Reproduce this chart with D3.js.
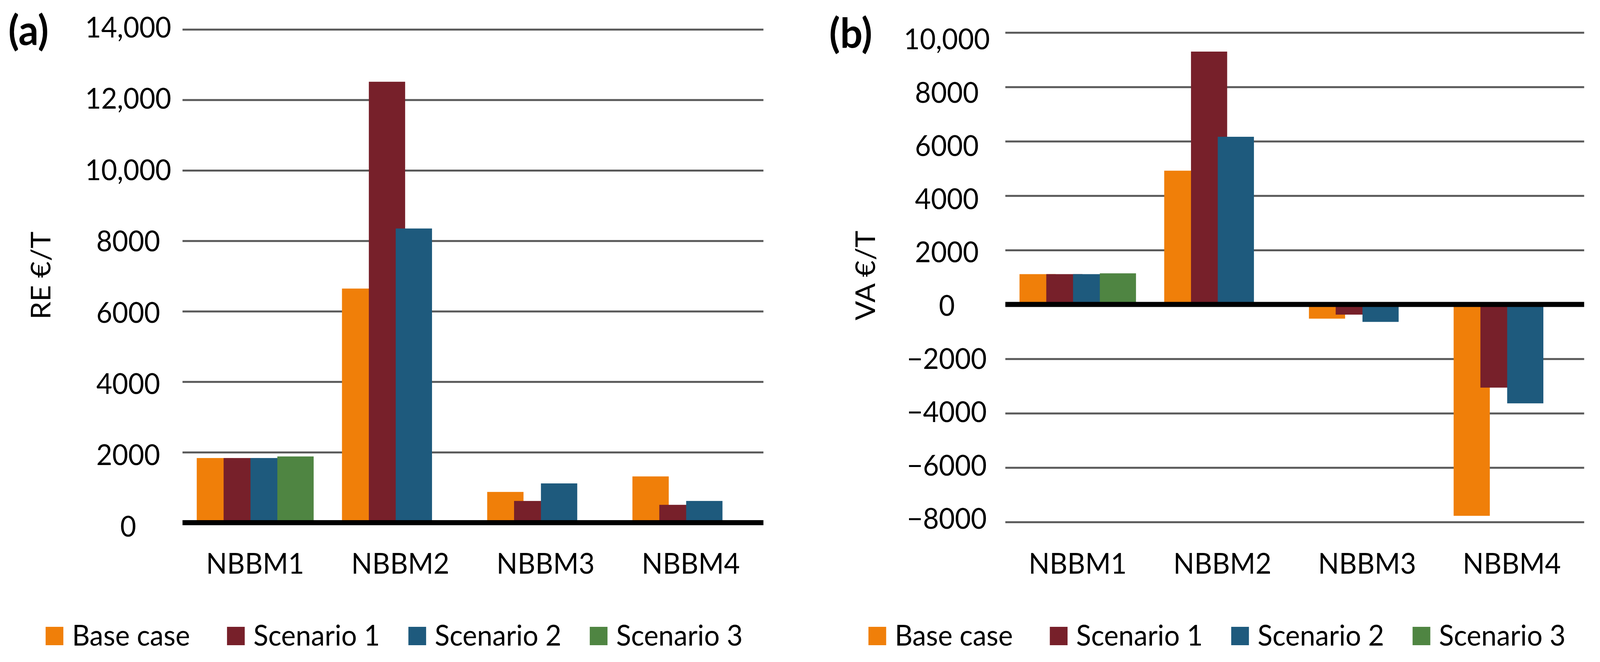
<!DOCTYPE html>
<html>
<head>
<meta charset="utf-8">
<script src="https://cdn.jsdelivr.net/npm/d3@7"></script>
<style>
html, body { margin: 0; padding: 0; background: #fff; overflow: hidden; }
#canvas { display: block; width: 100vw; height: 100vh; }
text { font-family: Lato, 'Open Sans', sans-serif; fill: #000; }
</style>
</head>
<body>
<svg id="canvas" viewBox="0 0 4243 1694" preserveAspectRatio="none"></svg>
<script>
let categories = ['NBBM1', 'NBBM2', 'NBBM3', 'NBBM4']
let seriesNames = ['Base case', 'Scenario 1', 'Scenario 2', 'Scenario 3']
let seriesColors = ['#F07F09', '#77202A', '#1E5A7D', '#4F8542']

// (a) RE €/T
let reBase = [1835, 6645, 873, 1313]
let reScen1 = [1835, 12515, 617, 507]
let reScen2 = [1835, 8350, 1115, 617]
let reScen3 = [1880, null, null, null]
let reTicks = [0, 2000, 4000, 6000, 8000, 10000, 12000, 14000]
let reTickLabels = ['0', '2000', '4000', '6000', '8000', '10,000', '12,000', '14,000']

// (b) VA €/T
let vaBase = [1115, 4920, -522, -7773]
let vaScen1 = [1115, 9300, -374, -3058]
let vaScen2 = [1115, 6167, -641, -3637]
let vaScen3 = [1145, null, null, null]
let vaTicks = [-8000, -6000, -4000, -2000, 0, 2000, 4000, 6000, 8000, 10000]
let vaTickLabels = ['\u22128000', '\u22126000', '\u22124000', '\u22122000', '0', '2000', '4000', '6000', '8000', '10,000']

let canvas = d3.select('#canvas')
canvas.append('rect').attr('width', 4243).attr('height', 1694).attr('fill', '#fff')

let drawPanel = (p) => {
    let g = canvas.append('g')

    let xScale = d3.scaleBand()
                    .domain(categories)
                    .range([p.left, p.right])
    let band = xScale.bandwidth()

    let yScale = d3.scaleLinear()
                    .domain(p.domain)
                    .range([p.bottom, p.top])

    let labelScale = d3.scaleLinear()
                    .domain(p.domain)
                    .range(p.labelRange)

    // gridlines
    let grid = g.append('g')
            .attr('transform', 'translate(' + p.left + ',0)')
            .call(d3.axisLeft(yScale)
                    .tickValues(p.ticks.filter((v) => v !== 0))
                    .tickSize(-(p.right - p.left))
                    .tickFormat(''))
    grid.select('.domain').remove()
    grid.selectAll('line')
            .attr('stroke', '#595959')
            .attr('stroke-width', 5)

    // bars
    let series = [p.base, p.s1, p.s2, p.s3]
    series.forEach((values, si) => {
        let items = categories.map((c, ci) => ({ c: c, v: values[ci] }))
                            .filter((d) => d.v !== null)
        g.append('g')
            .selectAll('rect')
            .data(items)
            .enter()
            .append('rect')
            .attr('x', (d) => xScale(d.c) + band * (0.098 + 0.185 * si))
            .attr('width', band * 0.25)
            .attr('y', (d) => Math.min(yScale(d.v), yScale(0)))
            .attr('height', (d) => Math.abs(yScale(d.v) - yScale(0)))
            .attr('fill', seriesColors[si])
    })

    // zero axis line
    g.append('line')
            .attr('x1', p.left)
            .attr('x2', p.right)
            .attr('y1', yScale(0))
            .attr('y2', yScale(0))
            .attr('stroke', '#000')
            .attr('stroke-width', 13)

    // value labels
    let labels = g.append('g')
            .attr('transform', 'translate(' + p.labelX + ',0)')
            .call(d3.axisLeft(labelScale)
                    .tickValues(p.ticks)
                    .tickSize(0)
                    .tickPadding(0)
                    .tickFormat((d, i) => p.tickLabels[i]))
    labels.select('.domain').remove()
    labels.selectAll('text')
            .attr('x', 0)
            .attr('dy', '0.36em')
            .attr('text-anchor', 'middle')
            .attr('font-family', 'Lato, sans-serif')
            .attr('font-size', 73)
            .attr('fill', '#000')

    // category labels
    g.append('g')
        .selectAll('text')
        .data(categories)
        .enter()
        .append('text')
        .attr('x', (d) => xScale(d) + band / 2)
        .attr('y', 1468)
        .attr('text-anchor', 'middle')
        .attr('font-size', 73)
        .text((d) => d)

    // axis title
    g.append('text')
        .attr('transform', 'translate(' + p.titleX + ',705) rotate(-90)')
        .attr('text-anchor', 'middle')
        .attr('font-size', 73)
        .text(p.title)

    // panel letter
    g.append('text')
        .attr('x', p.letterX)
        .attr('y', p.letterY)
        .attr('font-size', 105)
        .attr('font-weight', 700)
        .text(p.letter)

    // legend
    let legend = g.append('g')
            .selectAll('g')
            .data(seriesNames)
            .enter()
            .append('g')
            .attr('transform', (d, i) => 'translate(' + (p.legendX + i * 481) + ',1604)')
    legend.append('rect')
            .attr('width', 47)
            .attr('height', 47)
            .attr('fill', (d, i) => seriesColors[i])
    legend.append('text')
            .attr('x', 70)
            .attr('y', 48)
            .attr('font-size', 73)
            .text((d) => d)
}

drawPanel({
    left: 484, right: 2024.5, top: 75.3, bottom: 1337.5,
    domain: [0, 14000], labelRange: [1346, 69], labelX: 340,
    ticks: reTicks, tickLabels: reTickLabels,
    base: reBase, s1: reScen1, s2: reScen2, s3: reScen3,
    title: 'RE \u20ac/T', titleX: 134,
    letter: '(a)', letterX: 22, letterY: 115,
    legendX: 121
})

drawPanel({
    left: 2666, right: 4201, top: 83.3, bottom: 1335.7,
    domain: [-8000, 10000], labelRange: [1326, 99.5], labelX: 2511,
    ticks: vaTicks, tickLabels: vaTickLabels,
    base: vaBase, s1: vaScen1, s2: vaScen2, s3: vaScen3,
    title: 'VA \u20ac/T', titleX: 2320,
    letter: '(b)', letterX: 2199, letterY: 122,
    legendX: 2303
})
</script>
</body>
</html>
